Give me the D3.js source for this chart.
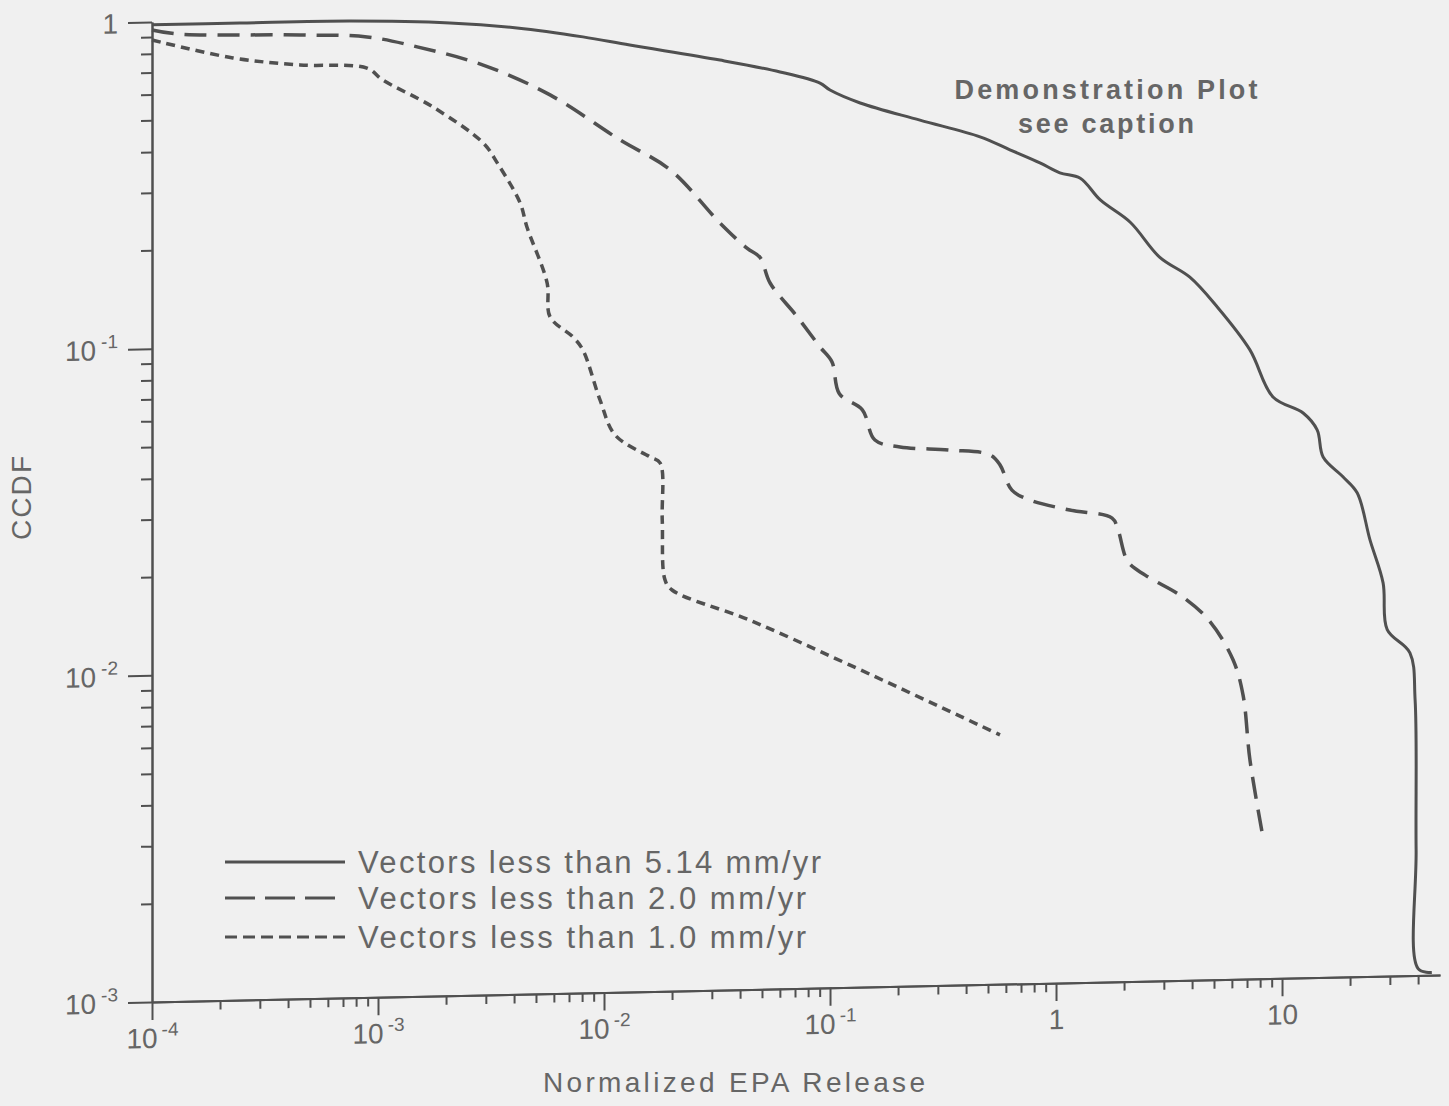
<!DOCTYPE html>
<html><head><meta charset="utf-8">
<script src="https://cdn.jsdelivr.net/npm/d3@7"></script>
<style>
html,body{margin:0;padding:0;background:#f0f0f0;}
svg{display:block;}
text{font-family:"Liberation Sans",Arial,Helvetica,sans-serif;fill:#666;}
</style></head><body>
<svg id="chart" width="1449" height="1106"></svg>
<script>
// ---- data ----
const seriesNames = ["Vectors less than 5.14 mm/yr", "Vectors less than 2.0 mm/yr", "Vectors less than 1.0 mm/yr"];

const solidX = [1e-4, 2.45e-4, 7.5e-4, 2.08e-3, 4.12e-3, 8.07e-3, 0.0130, 0.0326, 0.0601, 0.0903, 0.100, 0.136, 0.250, 0.461, 0.625, 0.849, 1.04, 1.28, 1.57, 2.13, 2.88, 3.91, 5.15, 7.21, 9.12, 12.4, 14.3, 15.2, 18.6, 21.5, 24.5, 28.0, 29.2, 36.8, 38.8, 39.2, 40.0, 46.0];
const solidY = [0.98, 0.98, 0.978, 0.951, 0.909, 0.845, 0.792, 0.703, 0.641, 0.589, 0.560, 0.509, 0.447, 0.394, 0.358, 0.325, 0.302, 0.290, 0.248, 0.211, 0.164, 0.142, 0.115, 0.0843, 0.0603, 0.0536, 0.0475, 0.0392, 0.0340, 0.0303, 0.0217, 0.0160, 0.0115, 0.00973, 0.00698, 0.00243, 0.00105, 0.00102];

const longDashX = [1e-4, 1.29e-4, 4.52e-4, 8.94e-4, 1.49e-3, 2.92e-3, 5.77e-3, 0.0118, 0.0196, 0.0326, 0.0429, 0.0490, 0.0543, 0.0715, 0.0903, 0.102, 0.110, 0.139, 0.158, 0.204, 0.340, 0.511, 0.565, 0.638, 0.767, 1.15, 1.77, 1.88, 2.08, 2.48, 3.65, 4.80, 6.07, 6.72, 7.21, 8.16];
const longDashY = [0.945, 0.916, 0.893, 0.872, 0.807, 0.703, 0.564, 0.406, 0.327, 0.223, 0.186, 0.174, 0.145, 0.114, 0.0917, 0.0824, 0.0657, 0.0585, 0.0472, 0.0448, 0.0435, 0.0418, 0.0389, 0.0325, 0.0302, 0.0280, 0.0263, 0.0242, 0.0193, 0.0175, 0.0149, 0.0125, 0.00951, 0.00742, 0.00469, 0.00281];

const shortDashX = [1e-4, 2.28e-4, 4.52e-4, 8.94e-4, 1.05e-3, 1.75e-3, 2.92e-3, 3.37e-3, 4.25e-3, 4.56e-3, 5.60e-3, 5.77e-3, 7.29e-3, 8.07e-3, 9.6e-3, 0.0112, 0.0160, 0.0177, 0.0181, 0.0186, 0.0200, 0.0442, 0.122, 0.565];
const shortDashY = [0.881, 0.767, 0.723, 0.700, 0.642, 0.527, 0.406, 0.352, 0.265, 0.223, 0.150, 0.118, 0.102, 0.0929, 0.0652, 0.0508, 0.0433, 0.0415, 0.0277, 0.0182, 0.0169, 0.0135, 0.00971, 0.00580];

const xMajorTicks = [1e-4, 1e-3, 1e-2, 1e-1, 1, 10];
const xTickLabels = [["10","-4"],["10","-3"],["10","-2"],["10","-1"],["1",""],["10",""]];
const xMinorTicks = [2e-4,3e-4,4e-4,5e-4,6e-4,7e-4,8e-4,9e-4, 2e-3,3e-3,4e-3,5e-3,6e-3,7e-3,8e-3,9e-3, 0.02,0.03,0.04,0.05,0.06,0.07,0.08,0.09, 0.2,0.3,0.4,0.5,0.6,0.7,0.8,0.9, 2,3,4,5,6,7,8,9, 20,30,40];
const yMajorTicks = [1e-3, 1e-2, 1e-1, 1];
const yTickLabels = [["10","-3"],["10","-2"],["10","-1"],["1",""]];
const yMinorTicks = [2e-3,3e-3,4e-3,5e-3,6e-3,7e-3,8e-3,9e-3, 0.02,0.03,0.04,0.05,0.06,0.07,0.08,0.09, 0.2,0.3,0.4,0.5,0.6,0.7,0.8,0.9];

const xTitle = "Normalized EPA Release";
const yTitle = "CCDF";
const noteLines = ["Demonstration Plot", "see caption"];

// ---- drawing ----
const svg = d3.select("#chart");
const ink = "#505050";
const x = d3.scaleLog().domain([1e-4, 50]).range([152, 1440]);
const y = d3.scaleLog().domain([1e-3, 1]).range([1002, 22]);
const x0 = 152, y0 = 1002;

// the scanned page is slightly sheared
const g = svg.append("g").attr("transform", `translate(${x0},0) skewY(-1.2) translate(${-x0},0)`);

function styleAxis(sel){
  sel.selectAll("path.domain").attr("stroke", ink).attr("stroke-width", 2);
  sel.selectAll(".tick line").attr("stroke", ink).attr("stroke-width", 2);
}

// x axis minor
g.append("g").attr("transform", `translate(0,${y0})`)
  .call(d3.axisBottom(x).tickValues(xMinorTicks).tickSize(9).tickSizeOuter(0).tickFormat(""))
  .call(styleAxis);
// x axis major
const xa = g.append("g").attr("transform", `translate(0,${y0})`)
  .call(d3.axisBottom(x).tickValues(xMajorTicks).tickSize(18).tickSizeOuter(0).tickFormat(""))
  .call(styleAxis);
xa.selectAll(".tick text").each(function(d,i){
  const t = d3.select(this).attr("y", 46).attr("dy", null).attr("font-size", 28)
    .attr("fill", "#666").attr("text-anchor", "middle");
  t.text(null);
  t.append("tspan").text(xTickLabels[i][0]);
  if (xTickLabels[i][1]) t.append("tspan").attr("dy", -12).attr("dx", 4).attr("font-size", 19).text(xTickLabels[i][1]);
});

// y axis minor
g.append("g").attr("transform", `translate(${x0},0)`)
  .call(d3.axisLeft(y).tickValues(yMinorTicks).tickSize(11).tickSizeOuter(0).tickFormat(""))
  .call(styleAxis);
// y axis major
const ya = g.append("g").attr("transform", `translate(${x0},0)`)
  .call(d3.axisLeft(y).tickValues(yMajorTicks).tickSize(24).tickSizeOuter(0).tickFormat(""))
  .call(styleAxis);
ya.selectAll(".tick text").each(function(d,i){
  const t = d3.select(this).attr("x", -34).attr("dy", "0.36em").attr("font-size", 28)
    .attr("fill", "#666").attr("text-anchor", "end");
  t.text(null);
  t.append("tspan").text(yTickLabels[i][0]);
  if (yTickLabels[i][1]) t.append("tspan").attr("dy", -12).attr("dx", 5).attr("font-size", 19).text(yTickLabels[i][1]);
});

// curves
const series = [
  {xs: solidX, ys: solidY, dash: null, w: 3},
  {xs: longDashX, ys: longDashY, dash: "22,11", w: 3.5},
  {xs: shortDashX, ys: shortDashY, dash: "9,6", w: 3.5}
];
const line = d3.line().x(d => x(d[0])).y(d => y(d[1])).curve(d3.curveCatmullRom.alpha(0.5));
series.forEach(s => {
  g.append("path").datum(d3.zip(s.xs, s.ys))
    .attr("d", line).attr("fill", "none").attr("stroke", ink)
    .attr("stroke-width", s.w).attr("stroke-dasharray", s.dash)
    .attr("stroke-linejoin", "round");
});

// legend
const legendDash = [null, "30,10", "12,6"];
const legendRows = [862, 898, 937];
const legendLen = [463, 448, 448];
seriesNames.forEach((name, i) => {
  svg.append("line").attr("x1", 225).attr("x2", 345).attr("y1", legendRows[i]).attr("y2", legendRows[i])
    .attr("stroke", ink).attr("stroke-width", 3).attr("stroke-dasharray", legendDash[i]);
  svg.append("text").attr("x", 358).attr("y", legendRows[i] + 11).attr("font-size", 31)
    .attr("textLength", legendLen[i]).attr("lengthAdjust", "spacing").text(name);
});

// annotation
svg.append("text").attr("x", 1106).attr("y", 99).attr("text-anchor", "middle").attr("font-size", 27)
  .attr("font-weight", "bold").attr("fill", "#707070")
  .attr("textLength", 303).attr("lengthAdjust", "spacing").text(noteLines[0]);
svg.append("text").attr("x", 1106).attr("y", 133).attr("text-anchor", "middle").attr("font-size", 27)
  .attr("font-weight", "bold").attr("fill", "#707070")
  .attr("textLength", 176).attr("lengthAdjust", "spacing").text(noteLines[1]);

// axis titles
svg.append("text").attr("x", 734).attr("y", 1092).attr("text-anchor", "middle").attr("font-size", 28)
  .attr("textLength", 382).attr("lengthAdjust", "spacing").text(xTitle);
svg.append("text").attr("transform", "translate(31,498) rotate(-90)").attr("text-anchor", "middle")
  .attr("font-size", 28).attr("textLength", 84).attr("lengthAdjust", "spacing").text(yTitle);
</script>
</body></html>
